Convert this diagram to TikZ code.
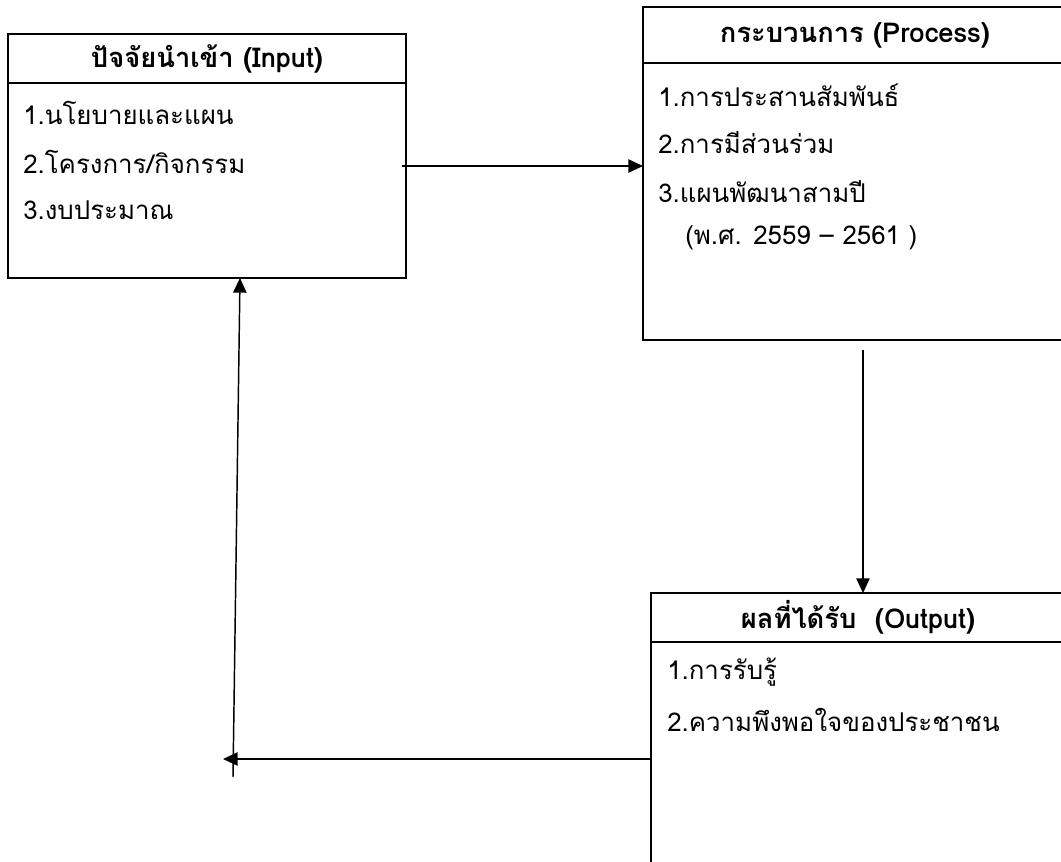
\documentclass[tikz,border=0pt]{standalone}
\usepackage{fontspec}
\setmainfont[Script=Thai]{Loma}
\usetikzlibrary{arrows.meta,positioning}

\tikzset{
  box/.style={draw, line width=1.7pt, rectangle, inner sep=0pt, outer sep=0pt},
  head/.style={box, font=\bfseries\fontsize{20.5}{24}\selectfont},
  item/.style={anchor=west, inner sep=0pt, font=\fontsize{19.4}{23}\selectfont},
  link/.style={line width=1.1pt, -{Triangle[length=11pt,width=10pt]}}
}

\begin{document}
\begin{tikzpicture}[x=0.75pt,y=-0.75pt]
\useasboundingbox (0,0) rectangle (1061,861);

% input
\node[head, minimum width=298.5pt, minimum height=36.75pt] (intitle) at (207,58.5) {ปัจจัยนำเข้า (Input)};
\node[box, minimum width=298.5pt, minimum height=146.25pt, below=0pt of intitle] (inbody) {};
\node[item] (in1) at (23,113) {1.นโยบายและแผน};
\node[item] (in2) at (23,162) {2.โครงการ/กิจกรรม};
\node[item] (in3) at (23,210) {3.งบประมาณ};

% process
\node[head, minimum width=318pt, minimum height=42pt] (proctitle) at (855,35) {กระบวนการ (Process)};
\node[box, minimum width=318pt, minimum height=207.75pt, below=0pt of proctitle] (procbody) {};
\node[item] (proc1) at (658,95) {1.การประสานสัมพันธ์};
\node[item] (proc2) at (658,143) {2.การมีส่วนร่วม};
\node[item] (proc3) at (658,192) {3.แผนพัฒนาสามปี};
\node[item] (proc4) at (685,238) {(พ.ศ. 2559 -- 2561 )};

% output
\node[head, minimum width=310.5pt, minimum height=36.75pt] (outtitle) at (858,617.5) {ผลที่ได้รับ\ \ (Output)};
\node[box, minimum width=310.5pt, minimum height=193.5pt, below=0pt of outtitle] (outbody) {};
\node[item] (out1) at (667,672) {1.การรับรู้};
\node[item] (out2) at (667,720) {2.ความพึงพอใจของประชาชน};

% arrows
\coordinate (pdown) at (863,350);
\coordinate (back) at (223,759);
\coordinate (up) at (233,777);
\coordinate (uptop) at (240,0);

\draw[link, shorten <=-3pt] (inbody.east |- 0,166) -- (procbody.west |- 0,166);
\draw[link] (pdown) -- (outtitle.north -| pdown);
\draw[link] (outbody.west |- back) -- (back);
\draw[link] (up) -- (inbody.south -| uptop);

\end{tikzpicture}
\end{document}
